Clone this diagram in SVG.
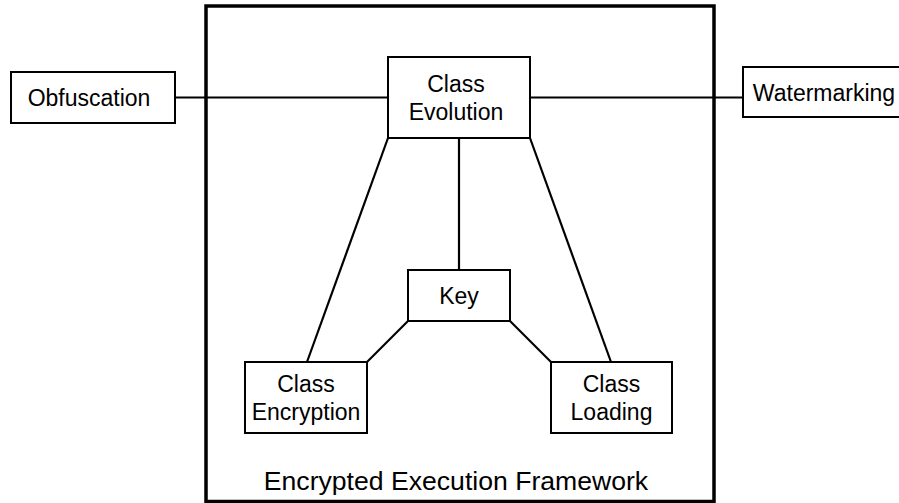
<svg xmlns="http://www.w3.org/2000/svg" width="899" height="503" viewBox="0 0 899 503">
<style>
.box{fill:#fff;stroke:#000;stroke-width:2}
.frame{fill:none;stroke:#000;stroke-width:3.5}
.lbl{font-family:"Liberation Sans",Arial,sans-serif;font-size:23px;fill:#000;text-anchor:middle}
.title{font-family:"Liberation Sans",Arial,sans-serif;font-size:26.6px;fill:#000;text-anchor:middle}
.conn line{stroke:#000;stroke-width:2.2}
</style>
<rect fill="#fff" x="0" y="0" width="899" height="503"/>
<g id="framework">
<rect class="frame" x="206" y="6" width="508" height="495.5"/>
<text class="title" x="456" y="490">Encrypted Execution Framework</text>
</g>
<g class="conn" id="connectors">
<line x1="175" y1="97.5" x2="388" y2="97.5"/>
<line x1="530" y1="97.5" x2="743" y2="97.5"/>
<line x1="459" y1="138" x2="459" y2="270"/>
<line x1="388" y1="138" x2="307" y2="362"/>
<line x1="530" y1="138" x2="611" y2="362"/>
<line x1="408" y1="321" x2="367" y2="362"/>
<line x1="510" y1="321" x2="551" y2="362"/>
</g>
<g id="obfuscation">
<rect class="box" x="11" y="72" width="164" height="51"/>
<text class="lbl" x="89" y="106">Obfuscation</text>
</g>
<g id="watermarking">
<rect class="box" x="743" y="67" width="160" height="50"/>
<text class="lbl" x="824" y="100.5">Watermarking</text>
</g>
<g id="class-evolution">
<rect class="box" x="388" y="57" width="142" height="81"/>
<text class="lbl" x="456" y="91.5">Class</text>
<text class="lbl" x="456" y="120">Evolution</text>
</g>
<g id="key">
<rect class="box" x="408" y="270" width="102" height="51"/>
<text class="lbl" x="459" y="304">Key</text>
</g>
<g id="class-encryption">
<rect class="box" x="245" y="362" width="122" height="71"/>
<text class="lbl" x="306" y="391.5">Class</text>
<text class="lbl" x="306" y="420">Encryption</text>
</g>
<g id="class-loading">
<rect class="box" x="551" y="362" width="121" height="71"/>
<text class="lbl" x="611.5" y="391.5">Class</text>
<text class="lbl" x="611.5" y="420">Loading</text>
</g>
</svg>
